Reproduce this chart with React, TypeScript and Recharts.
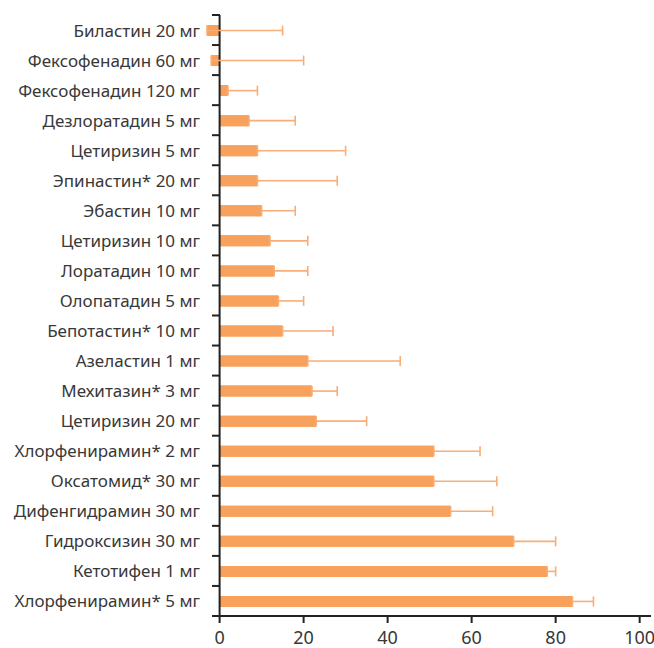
import React from "react";
import {
  BarChart,
  Bar,
  XAxis,
  YAxis,
  ErrorBar,
  ReferenceLine,
} from "recharts";

const drugs = [
  "Биластин 20 мг",
  "Фексофенадин 60 мг",
  "Фексофенадин 120 мг",
  "Дезлоратадин 5 мг",
  "Цетиризин 5 мг",
  "Эпинастин* 20 мг",
  "Эбастин 10 мг",
  "Цетиризин 10 мг",
  "Лоратадин 10 мг",
  "Олопатадин 5 мг",
  "Бепотастин* 10 мг",
  "Азеластин 1 мг",
  "Мехитазин* 3 мг",
  "Цетиризин 20 мг",
  "Хлорфенирамин* 2 мг",
  "Оксатомид* 30 мг",
  "Дифенгидрамин 30 мг",
  "Гидроксизин 30 мг",
  "Кетотифен 1 мг",
  "Хлорфенирамин* 5 мг",
];

const occupancy = [-3, -2, 2, 7, 9, 9, 10, 12, 13, 14, 15, 21, 22, 23, 51, 51, 55, 70, 78, 84];
const errorUp = [18, 22, 7, 11, 21, 19, 8, 9, 8, 6, 12, 22, 6, 12, 11, 15, 10, 10, 2, 5];

const xTicks = [0, 20, 40, 60, 80, 100];

const data = drugs.map((name, i) => ({
  name,
  value: occupancy[i],
  err: [0, errorUp[i]],
}));

const BAR = "#F8A15D";
const WHISKER = "#F9AD77";
const AXIS = "#222";
const TEXT = "#383838";
const FONT = "'Noto Sans', sans-serif";

// plot area: top 15, bottom 616 -> half a band
const HALF_BAND = (616 - 15) / drugs.length / 2;

const DrugTick = (props: any) => {
  const { x, y, payload, index } = props;
  const zeroX = x + 20;
  return (
    <g>
      <text
        x={x}
        y={y}
        textAnchor="end"
        dominantBaseline="central"
        fill={TEXT}
        fontSize={17}
        fontFamily={FONT}
      >
        {payload.value}
      </text>
      <line x1={zeroX - 8} x2={zeroX} y1={y - HALF_BAND} y2={y - HALF_BAND} stroke={AXIS} strokeWidth={2} />
      {index === drugs.length - 1 && (
        <line x1={zeroX - 8} x2={zeroX} y1={y + HALF_BAND} y2={y + HALF_BAND} stroke={AXIS} strokeWidth={2} />
      )}
    </g>
  );
};

export default function App() {
  return (
    <div style={{ position: "absolute", left: 0, top: 0, width: 654, height: 648 }}>
      <BarChart
        width={654}
        height={648}
        data={data}
        layout="vertical"
        margin={{ top: 15, right: 3, bottom: 0, left: 0 }}
        barCategoryGap={0}
        barGap={-11}
      >
        <XAxis
          type="number"
          domain={[-3, 102.7]}
          ticks={xTicks}
          allowDataOverflow
          height={32}
          tickSize={7}
          tickMargin={8}
          axisLine={{ stroke: AXIS, strokeWidth: 2, strokeDasharray: "0 5.5 2000" }}
          tickLine={{ stroke: AXIS, strokeWidth: 2 }}
          tick={{ fill: TEXT, fontSize: 18, fontFamily: FONT }}
        />
        <YAxis
          type="category"
          dataKey="name"
          width={207}
          axisLine={false}
          tickLine={false}
          tickSize={0}
          tickMargin={7}
          interval={0}
          tick={<DrugTick />}
        />
        <ReferenceLine x={0} stroke={AXIS} strokeWidth={2} />
        <Bar dataKey="value" fill={BAR} barSize={11} isAnimationActive={false}>
          <ErrorBar
            dataKey="err"
            direction="x"
            width={5}
            stroke={WHISKER}
            strokeWidth={1.6}
            isAnimationActive={false}
          />
        </Bar>
        {/* same bars again on top, so the whisker's inner cap is hidden */}
        <Bar dataKey="value" fill={BAR} barSize={11} isAnimationActive={false} />
      </BarChart>
    </div>
  );
}
